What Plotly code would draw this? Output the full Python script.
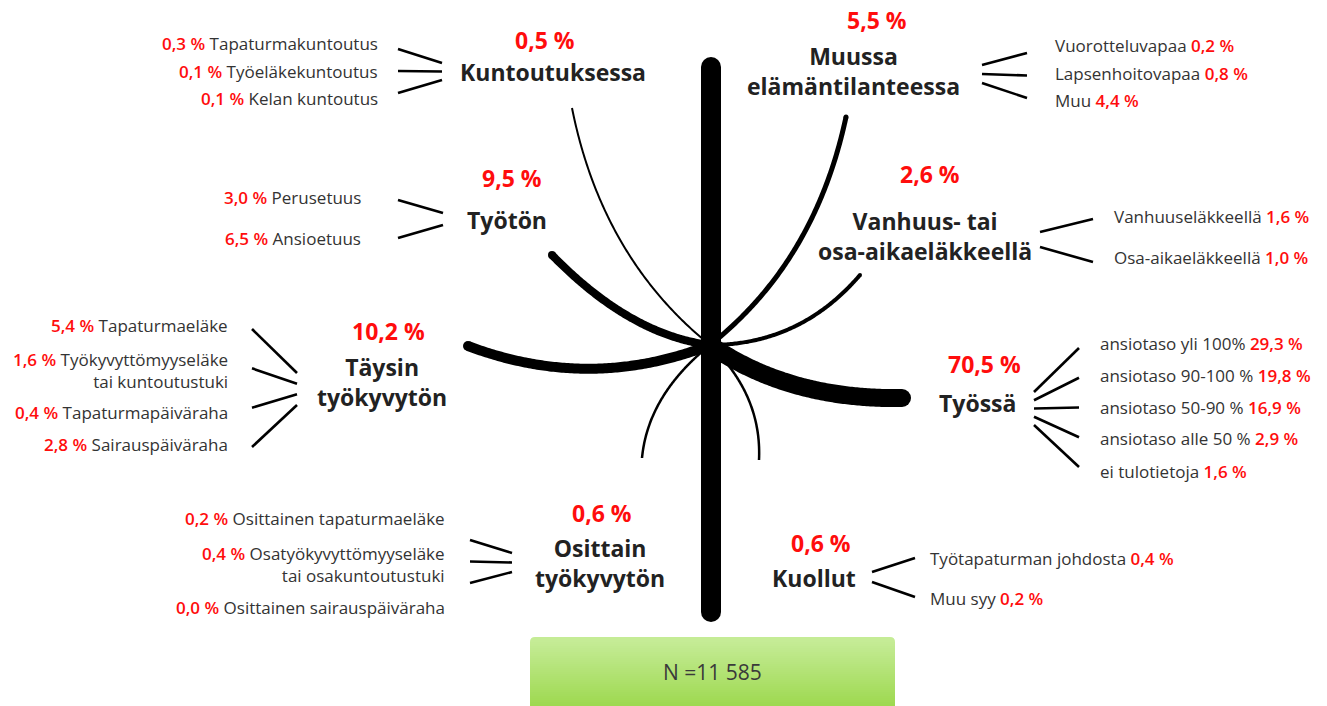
import numpy as np
import plotly.graph_objects as go

W, H = 1327, 706

# ---------------- DATA ----------------
categories = ["Kuntoutuksessa", "Muussa\nelämäntilanteessa", "Työtön",
              "Vanhuus- tai\nosa-aikaeläkkeellä", "Täysin\ntyökyvytön", "Työssä",
              "Osittain\ntyökyvytön", "Kuollut"]
category_pct = [0.5, 5.5, 9.5, 2.6, 10.2, 70.5, 0.6, 0.6]

sub_kuntoutus = ["Tapaturmakuntoutus", "Työeläkekuntoutus", "Kelan kuntoutus"]
sub_kuntoutus_pct = [0.3, 0.1, 0.1]
sub_muussa = ["Vuorotteluvapaa", "Lapsenhoitovapaa", "Muu"]
sub_muussa_pct = [0.2, 0.8, 4.4]
sub_tyoton = ["Perusetuus", "Ansioetuus"]
sub_tyoton_pct = [3.0, 6.5]
sub_vanhuus = ["Vanhuuseläkkeellä", "Osa-aikaeläkkeellä"]
sub_vanhuus_pct = [1.6, 1.0]
sub_taysin = ["Tapaturmaeläke", "Työkyvyttömyyseläke\ntai kuntoutustuki",
              "Tapaturmapäiväraha", "Sairauspäiväraha"]
sub_taysin_pct = [5.4, 1.6, 0.4, 2.8]
sub_tyossa = ["ansiotaso yli 100%", "ansiotaso 90-100 %", "ansiotaso 50-90 %",
              "ansiotaso alle 50 %", "ei tulotietoja"]
sub_tyossa_pct = [29.3, 19.8, 16.9, 2.9, 1.6]
sub_osittain = ["Osittainen tapaturmaeläke", "Osatyökyvyttömyyseläke\ntai osakuntoutustuki",
                "Osittainen sairauspäiväraha"]
sub_osittain_pct = [0.2, 0.4, 0.0]
sub_kuollut = ["Työtapaturman johdosta", "Muu syy"]
sub_kuollut_pct = [0.4, 0.2]
N_total = 11585

# ---------------- LAYOUT / STYLE ----------------
FONT = "Open Sans"
RED = "#ff0d0d"
DARK = "#222222"
SUBC = "#333333"
MAIN_SIZE = 23
SUB_SIZE = 17

center = (710, 345)
branch_end = [(572, 108), (846, 117), (552, 255), (860, 275), (468, 346), (902, 398), (642, 458), (759, 460)]
branch_ctrl = [(602, 258), (815, 262), (630, 335), (800, 345), (590, 392), (790, 400), (648, 395), (762, 395)]
branch_width = [2, 5, 8, 4, 10, 18, 2.5, 2.5]
pct_xy = [(545, 40), (877, 20), (512, 178), (930, 174), (388, 331), (984, 364), (602, 513), (821, 543)]
label_xy = [(553, 72), (853, 71), (507, 220), (925, 236), (382, 382), (977, 403), (600, 563), (814, 578)]
trunk_x, trunk_top, trunk_bottom, trunk_w = 711, 67, 612, 20

groups = [
    dict(labels=sub_kuntoutus, pct=sub_kuntoutus_pct, side="left", tx=380, ty=[43, 71, 98],
         hub_x=442, hub_y=(63, 80), out_x=398, out_y=(49, 93)),
    dict(labels=sub_muussa, pct=sub_muussa_pct, side="right", tx=1053, ty=[45, 73, 100],
         hub_x=982, hub_y=(65, 83), out_x=1027, out_y=(53, 98)),
    dict(labels=sub_tyoton, pct=sub_tyoton_pct, side="left", tx=363, ty=[197, 238],
         hub_x=443, hub_y=(213, 225), out_x=398, out_y=(200, 238)),
    dict(labels=sub_vanhuus, pct=sub_vanhuus_pct, side="right", tx=1112, ty=[216, 257],
         hub_x=1040, hub_y=(232, 247), out_x=1093, out_y=(219, 262)),
    dict(labels=sub_taysin, pct=sub_taysin_pct, side="left", tx=230, ty=[325, 370, 412, 444],
         hub_x=297, hub_y=(373, 405), out_x=252, out_y=(329, 447)),
    dict(labels=sub_tyossa, pct=sub_tyossa_pct, side="right", tx=1098, ty=[343, 375, 407, 438, 471],
         hub_x=1034, hub_y=(392, 425), out_x=1079, out_y=(348, 467)),
    dict(labels=sub_osittain, pct=sub_osittain_pct, side="left", tx=447, ty=[518, 564, 607],
         hub_x=512, hub_y=(553, 572), out_x=470, out_y=(540, 583)),
    dict(labels=sub_kuollut, pct=sub_kuollut_pct, side="right", tx=928, ty=[558, 598],
         hub_x=872, hub_y=(572, 582), out_x=915, out_y=(558, 597)),
]


def fmt(v):
    return f"{v:.1f}".replace(".", ",") + " %"


fig = go.Figure()

# branches (quadratic curves from the centre)
t = np.linspace(0, 1, 120)
for end, ctrl, w in zip(branch_end, branch_ctrl, branch_width):
    xs = (1 - t) ** 2 * center[0] + 2 * (1 - t) * t * ctrl[0] + t ** 2 * end[0]
    ys = (1 - t) ** 2 * center[1] + 2 * (1 - t) * t * ctrl[1] + t ** 2 * end[1]
    fig.add_trace(go.Scatter(x=xs, y=ys, mode="lines",
                             line=dict(color="black", width=w, simplify=False),
                             hoverinfo="skip", showlegend=False))
    if w >= 4:
        fig.add_trace(go.Scatter(x=[end[0]], y=[end[1]], mode="markers",
                                 marker=dict(color="black", size=w, line=dict(width=0)),
                                 hoverinfo="skip", showlegend=False))

# trunk
fig.add_trace(go.Scatter(x=[trunk_x, trunk_x], y=[trunk_top, trunk_bottom], mode="lines+markers",
                         line=dict(color="black", width=trunk_w),
                         marker=dict(color="black", size=trunk_w, line=dict(width=0)),
                         hoverinfo="skip", showlegend=False))

annotations = []
# main labels
for name, v, pxy, lxy in zip(categories, category_pct, pct_xy, label_xy):
    annotations.append(dict(x=pxy[0], y=pxy[1], text=f"<b>{fmt(v)}</b>", showarrow=False,
                            xanchor="center", yanchor="middle",
                            font=dict(family=FONT, size=MAIN_SIZE, color=RED)))
    annotations.append(dict(x=lxy[0], y=lxy[1], text="<b>" + name.replace("\n", "<br>") + "</b>",
                            showarrow=False, xanchor="center", yanchor="middle", align="center",
                            font=dict(family=FONT, size=MAIN_SIZE, color=DARK)))

# sub labels and fan lines
for g in groups:
    n = len(g["labels"])
    hy = np.linspace(g["hub_y"][0], g["hub_y"][1], n)
    oy = np.linspace(g["out_y"][0], g["out_y"][1], n)
    for i in range(n):
        fig.add_trace(go.Scatter(x=[g["out_x"], g["hub_x"]], y=[oy[i], hy[i]], mode="lines",
                                 line=dict(color="black", width=2.6), hoverinfo="skip",
                                 showlegend=False))
        lab = g["labels"][i].replace("\n", "<br>")
        p = f"<span style='color:{RED};font-weight:600'>{fmt(g['pct'][i])}</span>"
        if g["side"] == "left":
            txt = p + " " + lab
            xa, al = "right", "right"
        else:
            txt = lab + " " + p
            xa, al = "left", "left"
        annotations.append(dict(x=g["tx"], y=g["ty"][i], text=txt, showarrow=False,
                                xanchor=xa, yanchor="middle", align=al,
                                font=dict(family=FONT, size=SUB_SIZE, color=SUBC)))

# N box with gradient
bx0, bx1, by0, by1 = 530, 895, 637, 706
top_c = np.array([197, 236, 150])
bot_c = np.array([158, 217, 80])
shapes = [dict(type="path", xref="x", yref="y",
               path=f"M {bx0},{by1} L {bx0},{by0+5} Q {bx0},{by0} {bx0+5},{by0} L {bx1-5},{by0} "
                    f"Q {bx1},{by0} {bx1},{by0+5} L {bx1},{by1} Z",
               fillcolor="rgb(%d,%d,%d)" % tuple(top_c), line=dict(width=0), layer="below")]
nb = 32
edges = np.linspace(by0 + 5, by1, nb + 1)
for k in range(nb):
    c = top_c + (bot_c - top_c) * (k + 0.5) / nb
    shapes.append(dict(type="rect", xref="x", yref="y", x0=bx0, x1=bx1, y0=edges[k], y1=edges[k + 1] + 0.6,
                       fillcolor="rgb(%d,%d,%d)" % tuple(c.astype(int)), line=dict(width=0),
                       layer="below"))
annotations.append(dict(x=(bx0 + bx1) / 2, y=672, text="N =" + f"{N_total:,}".replace(",", " "),
                        showarrow=False, xanchor="center", yanchor="middle",
                        font=dict(family=FONT, size=21, color="#3a3a3a")))

fig.update_layout(
    width=W, height=H, margin=dict(l=0, r=0, t=0, b=0),
    paper_bgcolor="white", plot_bgcolor="white",
    xaxis=dict(range=[0, W], visible=False, fixedrange=True),
    yaxis=dict(range=[H, 0], visible=False, fixedrange=True),
    annotations=annotations, shapes=shapes, showlegend=False,
)

fig.write_html("out.html", config={"displayModeBar": False},
               post_script="document.body.style.margin='0';")
